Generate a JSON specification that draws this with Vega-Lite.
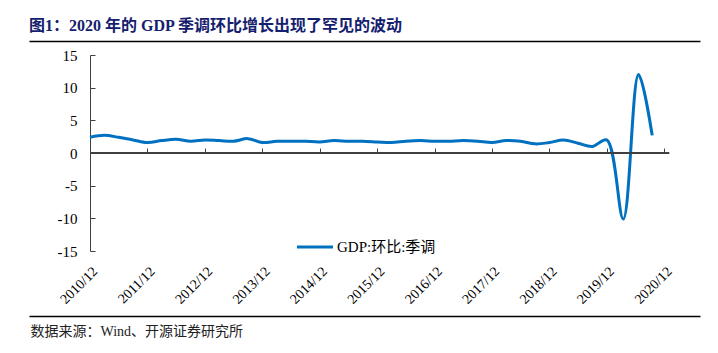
{
  "$schema": "https://vega.github.io/schema/vega-lite/v6.json",
  "width": 671,
  "height": 196,
  "autosize": {"type": "none"},
  "padding": {"left": 29, "top": 55, "right": 18, "bottom": 102},
  "background": "white",
  "title": {
    "text": "图1：2020 年的 GDP 季调环比增长出现了罕见的波动",
    "anchor": "start",
    "frame": "group",
    "fontSize": 16,
    "fontWeight": "bold",
    "color": "#14206E",
    "font": "Liberation Serif, Noto Sans CJK SC",
    "offset": 7
  },
  "data": {
    "values": [
      {"date": "2010-12-01", "value": 2.4},
      {"date": "2011-03-01", "value": 2.7},
      {"date": "2011-06-01", "value": 2.4},
      {"date": "2011-09-01", "value": 2.0},
      {"date": "2011-12-01", "value": 1.6},
      {"date": "2012-03-01", "value": 1.9},
      {"date": "2012-06-01", "value": 2.1},
      {"date": "2012-09-01", "value": 1.8},
      {"date": "2012-12-01", "value": 2.0},
      {"date": "2013-03-01", "value": 1.9},
      {"date": "2013-06-01", "value": 1.8},
      {"date": "2013-09-01", "value": 2.2},
      {"date": "2013-12-01", "value": 1.6},
      {"date": "2014-03-01", "value": 1.8},
      {"date": "2014-06-01", "value": 1.8},
      {"date": "2014-09-01", "value": 1.8},
      {"date": "2014-12-01", "value": 1.7},
      {"date": "2015-03-01", "value": 1.9},
      {"date": "2015-06-01", "value": 1.8},
      {"date": "2015-09-01", "value": 1.8},
      {"date": "2015-12-01", "value": 1.7},
      {"date": "2016-03-01", "value": 1.6},
      {"date": "2016-06-01", "value": 1.8},
      {"date": "2016-09-01", "value": 1.9},
      {"date": "2016-12-01", "value": 1.8},
      {"date": "2017-03-01", "value": 1.8},
      {"date": "2017-06-01", "value": 1.9},
      {"date": "2017-09-01", "value": 1.8},
      {"date": "2017-12-01", "value": 1.6},
      {"date": "2018-03-01", "value": 1.9},
      {"date": "2018-06-01", "value": 1.8},
      {"date": "2018-09-01", "value": 1.4},
      {"date": "2018-12-01", "value": 1.6},
      {"date": "2019-03-01", "value": 2.0},
      {"date": "2019-06-01", "value": 1.5},
      {"date": "2019-09-01", "value": 1.0},
      {"date": "2019-12-01", "value": 2.0},
      {"date": "2020-03-15", "value": -10.1},
      {"date": "2020-06-20", "value": 12.0},
      {"date": "2020-09-15", "value": 2.7}
    ]
  },
  "layer": [
    {
      "mark": {"type": "line", "interpolate": "catmull-rom", "strokeWidth": 3},
      "encoding": {
        "x": {
          "field": "date",
          "type": "temporal",
          "scale": {"type": "utc", "domain": [{"year": 2009, "month": 11, "date": 8, "utc": true}, {"year": 2021, "month": 7, "date": 16, "utc": true}]},
          "axis": {
            "orient": "bottom",
            "offset": 65,
            "values": [
              {"year": 2010, "month": 12, "date": 1, "utc": true},
              {"year": 2011, "month": 12, "date": 1, "utc": true},
              {"year": 2012, "month": 12, "date": 1, "utc": true},
              {"year": 2013, "month": 12, "date": 1, "utc": true},
              {"year": 2014, "month": 12, "date": 1, "utc": true},
              {"year": 2015, "month": 12, "date": 1, "utc": true},
              {"year": 2016, "month": 12, "date": 1, "utc": true},
              {"year": 2017, "month": 12, "date": 1, "utc": true},
              {"year": 2018, "month": 12, "date": 1, "utc": true},
              {"year": 2019, "month": 12, "date": 1, "utc": true},
              {"year": 2020, "month": 12, "date": 1, "utc": true}
            ],
            "format": "%Y/%m",
            "labelAngle": -45,
            "labelPadding": -52,
            "labelFontSize": 14,
            "labelColor": "black",
            "labelFlush": false,
            "labelOverlap": false,
            "labelBound": false,
            "ticks": false,
            "grid": false,
            "domain": true,
            "domainColor": "black",
            "domainWidth": 1.5,
            "title": "数据来源：Wind、开源证券研究所",
            "titleX": 1,
            "titleY": 15,
            "titleAlign": "left",
            "titleAnchor": "start",
            "titleBaseline": "middle",
            "titleFontSize": 14,
            "titleFontWeight": "normal",
            "titleColor": "#222222"
          }
        },
        "y": {
          "field": "value",
          "type": "quantitative",
          "scale": {"domain": [-15, 15], "nice": false, "zero": false},
          "axis": {
            "orient": "left",
            "offset": -61,
            "values": [-15, -10, -5, 0, 5, 10, 15],
            "format": "d",
            "labelExpr": "replace(datum.label, '−', '-')",
            "labelFontSize": 15,
            "labelColor": "black",
            "labelAlign": "right",
            "labelBaseline": "middle",
            "labelPadding": 18,
            "labelOverlap": false,
            "labelFlush": false,
            "labelBound": false,
            "tickSize": -5,
            "tickColor": "#404040",
            "domainColor": "#404040",
            "grid": false,
            "title": null
          }
        },
        "color": {
          "datum": "GDP:环比:季调",
          "scale": {"range": ["#0070C0"]},
          "legend": {
            "orient": "none",
            "legendX": 266,
            "legendY": 172,
            "title": null,
            "padding": 0,
            "symbolType": "stroke",
            "symbolSize": 1300,
            "symbolStrokeWidth": 3,
            "labelFontSize": 15,
            "labelColor": "black",
            "labelLimit": 300,
            "labelOffset": 2
          }
        }
      }
    },
    {
      "mark": {"type": "rule", "color": "#404040", "strokeWidth": 1},
      "encoding": {
        "x": {
          "datum": {"year": 2010, "month": 12, "date": 1, "utc": true},
          "type": "temporal",
          "scale": {"type": "utc", "domain": [{"year": 2009, "month": 11, "date": 8, "utc": true}, {"year": 2021, "month": 7, "date": 16, "utc": true}]},
          "axis": {
            "orient": "top",
            "offset": -98,
            "values": [
              {"year": 2010, "month": 12, "date": 1, "utc": true},
              {"year": 2011, "month": 12, "date": 1, "utc": true},
              {"year": 2012, "month": 12, "date": 1, "utc": true},
              {"year": 2013, "month": 12, "date": 1, "utc": true},
              {"year": 2014, "month": 12, "date": 1, "utc": true},
              {"year": 2015, "month": 12, "date": 1, "utc": true},
              {"year": 2016, "month": 12, "date": 1, "utc": true},
              {"year": 2017, "month": 12, "date": 1, "utc": true},
              {"year": 2018, "month": 12, "date": 1, "utc": true},
              {"year": 2019, "month": 12, "date": 1, "utc": true},
              {"year": 2020, "month": 12, "date": 1, "utc": true}
            ],
            "domain": false,
            "ticks": true,
            "tickSize": 5,
            "tickColor": "#404040",
            "labels": false,
            "grid": false,
            "title": null
          }
        },
        "x2": {"datum": {"year": 2020, "month": 12, "date": 31, "utc": true}},
        "y": {"datum": 0, "type": "quantitative", "scale": {"domain": [-15, 15], "nice": false, "zero": false}, "axis": null}
      }
    },
    {
      "mark": {"type": "rule", "opacity": 0},
      "encoding": {
        "x": {
          "datum": {"year": 2010, "month": 12, "date": 1, "utc": true},
          "type": "temporal",
          "scale": {"type": "utc", "domain": [{"year": 2009, "month": 11, "date": 8, "utc": true}, {"year": 2021, "month": 7, "date": 16, "utc": true}]},
          "axis": {
            "orient": "top",
            "offset": 14,
            "domain": true,
            "domainColor": "black",
            "domainWidth": 1.5,
            "ticks": false,
            "labels": false,
            "grid": false,
            "title": null
          }
        }
      }
    }
  ],
  "resolve": {"axis": {"x": "independent", "y": "independent"}},
  "config": {
    "view": {"stroke": null},
    "font": "Liberation Serif, Noto Sans CJK SC",
    "axisY": {"labelOverlap": false}
  }
}
